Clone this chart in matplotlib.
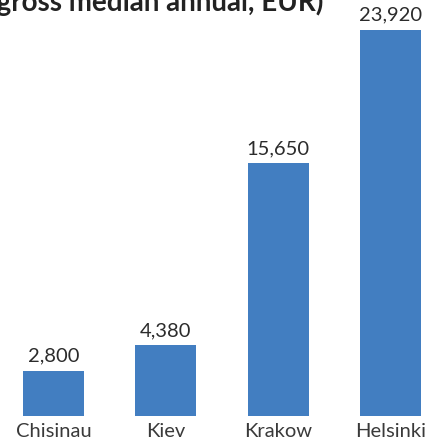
import matplotlib
matplotlib.use("Agg")
import matplotlib.pyplot as plt

cities = ["Chisinau", "Kiev", "Krakow", "Helsinki"]
values = [2800, 4380, 15650, 23920]
title = "(gross median annual, EUR)"

W, H, DPI = 431, 446, 100
fig = plt.figure(figsize=(W / DPI, H / DPI), dpi=DPI)
plt.rcParams['font.family'] = ['Lato', 'DejaVu Sans']

base_px = 416
top_px = 30
ax = fig.add_axes([0, (H - base_px) / H, 1, base_px / H])
ax.set_ylim(0, values[-1] * base_px / (base_px - top_px))
ax.set_xlim(-0.476, 3.36)

color = "#427EC1"
xs = range(len(cities))
ax.bar(xs, values, width=0.543, color=color, edgecolor="none", linewidth=0)
for x, v in zip(xs, values):
    ax.text(x, v + values[-1] * 0.016, f"{v:,}", ha="center", va="bottom",
            fontsize=14.5, color="#2b2b2b")

ax.set_xticks(list(xs))
ax.set_xticklabels(cities, fontsize=14.5, color="#3a3a3a")
ax.tick_params(axis="x", length=0, pad=5)
ax.set_yticks([])
for s in ax.spines.values():
    s.set_visible(False)

fig.text(323 / W, 1 - 10.5 / H, title, ha="right", va="baseline",
         fontsize=20, fontweight="bold", color="#222222")

fig.savefig("out.png", dpi=DPI)
